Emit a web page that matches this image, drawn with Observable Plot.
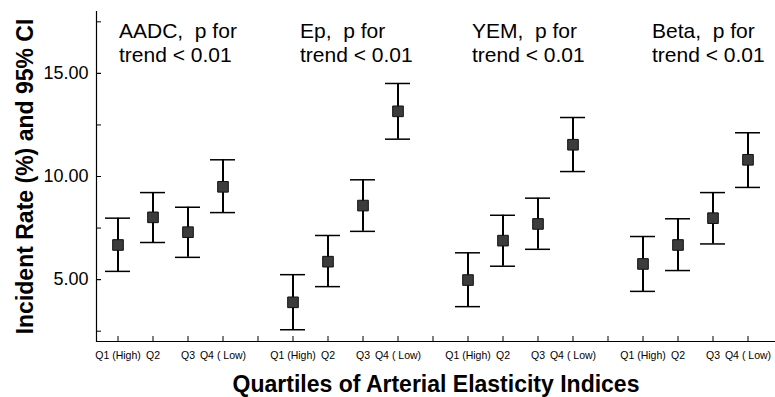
<!DOCTYPE html>
<html>
<head>
<meta charset="utf-8">
<script src="https://cdn.jsdelivr.net/npm/d3@7"></script>
<script src="https://cdn.jsdelivr.net/npm/@observablehq/plot@0.6"></script>
<style>
  html, body { margin: 0; padding: 0; background: #fff; }
</style>
</head>
<body>
<div id="chart"></div>
<script>
// ---- data ----
const groups = ["AADC", "Ep", "YEM", "Beta"];
const quartiles = ["Q1 (High)", "Q2", "Q3", "Q4 ( Low)"];
const aadcMean = [6.68, 8.02, 7.30, 9.50];
const aadcLow  = [5.40, 6.80, 6.08, 8.25];
const aadcHigh = [7.98, 9.22, 8.51, 10.81];
const epMean   = [3.90, 5.87, 8.59, 13.16];
const epLow    = [2.57, 4.66, 7.34, 11.81];
const epHigh   = [5.24, 7.14, 9.84, 14.51];
const yemMean  = [4.98, 6.89, 7.70, 11.54];
const yemLow   = [3.69, 5.65, 6.47, 10.24];
const yemHigh  = [6.30, 8.12, 8.95, 12.86];
const betaMean = [5.76, 6.68, 7.98, 10.81];
const betaLow  = [4.43, 5.44, 6.73, 9.47];
const betaHigh = [7.09, 7.95, 9.22, 12.12];
const annotations = ["AADC,\u00a0 p for\ntrend < 0.01", "Ep,\u00a0 p for\ntrend < 0.01", "YEM,\u00a0 p for\ntrend < 0.01", "Beta,\u00a0 p for\ntrend < 0.01"];
const yTicksMajor = [5, 10, 15];
const yTicksMinor = [2.5, 5, 7.5, 10, 12.5, 15, 17.5];
const xTitle = "Quartiles of Arterial Elasticity Indices";
const yTitle = "Incident Rate (%) and 95% CI";

// ---- build table ----
const series = [
  [aadcMean, aadcLow, aadcHigh],
  [epMean, epLow, epHigh],
  [yemMean, yemLow, yemHigh],
  [betaMean, betaLow, betaHigh]
];
const keys = [];
const labelOf = {};
groups.forEach((g, gi) => {
  quartiles.forEach((q, qi) => { const k = g + "|" + qi; keys.push(k); labelOf[k] = q; });
  if (gi < groups.length - 1) { const k = "gap" + gi; keys.push(k); labelOf[k] = ""; }
});
const rows = [];
groups.forEach((g, gi) => {
  quartiles.forEach((q, qi) => {
    rows.push({key: g + "|" + qi, mean: series[gi][0][qi], low: series[gi][1][qi], high: series[gi][2][qi]});
  });
});
const annoRows = groups.map((g, gi) => ({key: g + "|0", text: annotations[gi]}));
const annoDx = [1, 7, 4, 9]; // layout offsets (px)

const font = "Liberation Sans, Arial, Helvetica, sans-serif";

const chart = Plot.plot({
  width: 775,
  height: 397,
  marginLeft: 96,
  marginRight: 0,
  marginTop: 11,
  marginBottom: 56,
  style: {fontFamily: font, background: "#fff", color: "#000", overflow: "visible"},
  x: {type: "band", domain: keys, paddingInner: 0.3, paddingOuter: 0.2135, align: 0.36},
  y: {domain: [2, 18]},
  marks: [
    Plot.frame({anchor: "left", stroke: "#000", strokeWidth: 1.2}),
    Plot.ruleY([2], {stroke: "#000", strokeWidth: 1.2}),
    Plot.axisY(yTicksMinor, {tickSize: -5, tickFormat: () => "", label: null, stroke: "#000"}),
    Plot.axisY(yTicksMajor, {tickSize: -5, tickPadding: 13, tickFormat: d3.format(".2f"), label: null, fontSize: 18, stroke: "#000", fill: "#000"}),
    Plot.axisX({tickSize: -5, tickPadding: 15, tickFormat: k => labelOf[k], label: null, fontSize: 10.5, stroke: "#000", fill: "#000"}),
    Plot.ruleX(rows, {x: "key", y1: "low", y2: "high", stroke: "#000", strokeWidth: 2}),
    Plot.tickY(rows, {x: "key", y: "high", stroke: "#000", strokeWidth: 1.5}),
    Plot.tickY(rows, {x: "key", y: "low", stroke: "#000", strokeWidth: 1.5}),
    Plot.dot(rows, {x: "key", y: "mean", symbol: "square", r: 6, fill: "#3c3c3c", stroke: "#111", strokeWidth: 1}),
    ...annoRows.map((a, i) => Plot.text([a], {x: "key", text: "text", frameAnchor: "top", lineAnchor: "top", textAnchor: "start", dx: annoDx[i], dy: 10, fontSize: 21, lineHeight: 1.12, fill: "#000"})),
    Plot.text([yTitle], {frameAnchor: "left", textAnchor: "middle", lineAnchor: "middle", rotate: -90, dx: -71, fontSize: 23, fontWeight: "bold", fill: "#000"}),
    Plot.text([xTitle], {frameAnchor: "bottom", textAnchor: "middle", lineAnchor: "middle", dy: 43, fontSize: 23, fontWeight: "bold", fill: "#000"})
  ]
});
document.getElementById("chart").appendChild(chart);
</script>
</body>
</html>
